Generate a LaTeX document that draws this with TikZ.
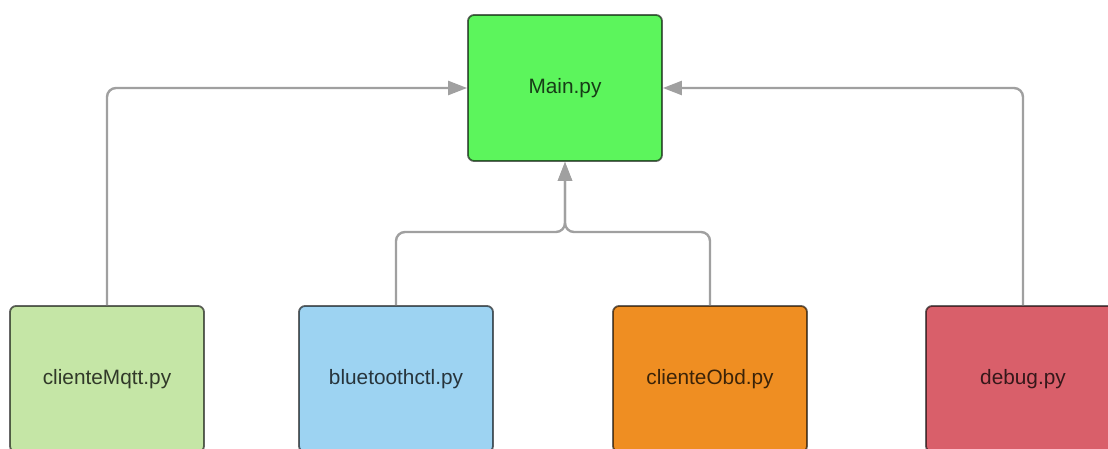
\documentclass[tikz,border=0pt]{standalone}
\usepackage{fontspec}
\setmainfont{Liberation Sans}
\usetikzlibrary{arrows.meta}
\definecolor{mainfill}{HTML}{5CF55C}
\definecolor{mqttfill}{HTML}{C5E6A6}
\definecolor{btfill}{HTML}{9DD3F2}
\definecolor{obdfill}{HTML}{EF8E22}
\definecolor{debugfill}{HTML}{D95F6A}
\definecolor{linkgray}{HTML}{A0A0A0}
\tikzset{
  module/.style={draw=black, draw opacity=0.6, line width=1.8pt,
    rounded corners=6pt, minimum width=194pt, minimum height=146pt,
    text=black, text opacity=0.75, font=\fontsize{20.8}{24}\selectfont,
    inner sep=0pt},
  link/.style={draw=linkgray, line width=2.4pt, rounded corners=9pt,
    -{Triangle[length=19pt,width=14pt]}}
}
\begin{document}
\begin{tikzpicture}[x=1pt,y=1pt]
  \useasboundingbox (0,0) rectangle (1108,448);
  \clip (0,0) rectangle (1108,448);
  \fill[white] (0,0) rectangle (1108,448);

  % modules
  \node[module, fill=mainfill]  (main)  at (565,360) {Main.py};
  \node[module, fill=mqttfill]  (mqtt)  at (107,69)  {clienteMqtt.py};
  \node[module, fill=btfill]    (bt)    at (396,69)  {bluetoothctl.py};
  \node[module, fill=obdfill]   (obd)   at (710,69)  {clienteObd.py};
  \node[module, fill=debugfill] (debug) at (1023,69) {debug.py};

  % merge point of the two middle links
  \coordinate (jn) at (565,216);

  % links into Main.py
  \draw[link] (mqtt.north) |- (main.west);
  \draw[link] (debug.north) |- (main.east);
  \draw[link] (bt.north) |- (jn) -- (main.south);
  \draw[link] (obd.north) |- (jn) -- (main.south);
\end{tikzpicture}
\end{document}
